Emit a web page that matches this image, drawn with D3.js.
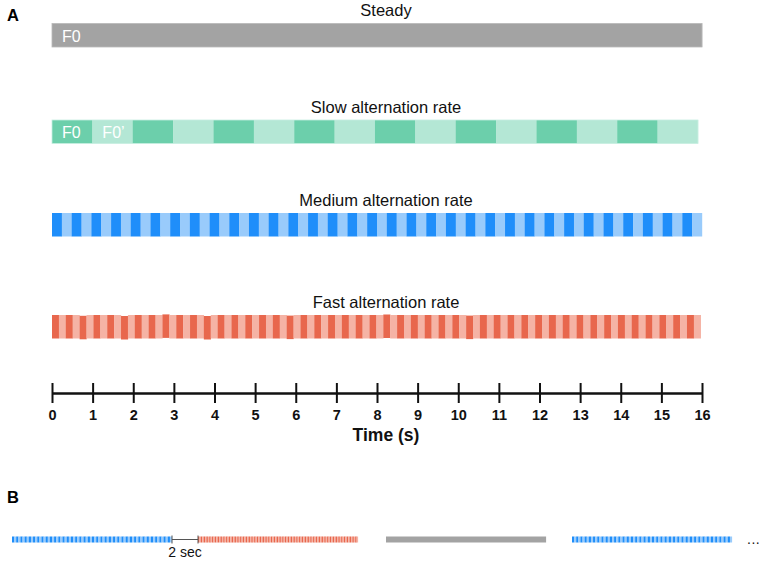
<!DOCTYPE html>
<html>
<head>
<meta charset="utf-8">
<script src="https://cdn.jsdelivr.net/npm/d3@7"></script>
<style>
  body { margin: 0; background: #fff; }
  text { font-family: "Liberation Sans", Arial, sans-serif; }
</style>
</head>
<body>
<div id="chart"></div>
<script>
// Panel A conditions
const conditions = ["Steady", "Slow alternation rate", "Medium alternation rate", "Fast alternation rate"];
const segmentCounts = [1, 16, 66, 94];          // alternating F0 / F0' segments over the trial
const barEnds = [16, 15.9, 16, 15.97];           // where each bar ends (s)
const darkColors = ["#a3a3a3", "#6ccfab", "#1f8efa", "#e8674d"];
const lightColors = ["#a3a3a3", "#b4e7d5", "#99cbfb", "#f5b3a5"];
const fastJitter = { 2: 0.8, 5: 1, 8: -0.6, 11: 1, 17: 0.6, 24: -0.5, 30: 0.6 };  // dark stripe y shifts

// Segment labels
const segLabels = [
  { cond: 0, seg: 0, text: "F0" },
  { cond: 1, seg: 0, text: "F0" },
  { cond: 1, seg: 1, text: "F0\u2019" }
];

// Time axis
const timeTicks = [0, 1, 2, 3, 4, 5, 6, 7, 8, 9, 10, 11, 12, 13, 14, 15, 16];

// Panel B trial sequence
const trialCond = [2, 3, 0, 2];
const trialStarts = [0, 18.6, 37.4, 56];
const trialDur = 16;
const trialSegments = [1, 16, 76, 114];

const width = 765, height = 563;
const svg = d3.select("#chart").append("svg")
    .attr("width", width)
    .attr("height", height);

const x = d3.scaleLinear().domain([0, 16]).range([52, 702]);
const barTop = d3.scaleOrdinal().domain(d3.range(4)).range([23.5, 120, 213, 315]);
const barH = 23.5;
const titleX = 386;

// Titles
svg.append("g").selectAll("text")
    .data(conditions)
    .join("text")
    .attr("x", titleX)
    .attr("y", (d, i) => barTop(i) - 7.5)
    .attr("text-anchor", "middle")
    .attr("font-size", 16.5)
    .attr("fill", "#111")
    .text(d => d);

// Bars made of alternating segments
conditions.forEach((c, ci) => {
  const n = segmentCounts[ci];
  const step = barEnds[ci] / n;
  const segs = d3.range(n).map(k => ({ k, t0: k * step, t1: (k + 1) * step }));
  const g = svg.append("g");
  g.selectAll("rect")
    .data(segs)
    .join("rect")
    .attr("x", d => x(d.t0))
    .attr("width", d => x(d.t1) - x(d.t0) + 0.2)
    .attr("y", d => barTop(ci) + (ci === 3 && d.k % 2 === 0 ? (fastJitter[d.k / 2] || 0) : 0))
    .attr("height", barH)
    .attr("fill", d => d.k % 2 === 0 ? darkColors[ci] : lightColors[ci]);
  if (ci < 2) {
    g.append("rect")
      .attr("x", x(0)).attr("y", barTop(ci))
      .attr("width", x(barEnds[ci]) - x(0)).attr("height", barH)
      .attr("fill", "none")
      .attr("stroke", ci === 0 ? "#b8b8b8" : "#c6eee0")
      .attr("stroke-width", 0.8);
  }
});

// F0 labels inside bars
svg.append("g").selectAll("text")
    .data(segLabels)
    .join("text")
    .attr("x", d => x(d.seg * barEnds[d.cond] / segmentCounts[d.cond]) + 10)
    .attr("y", d => barTop(d.cond) + 18)
    .attr("font-size", 16)
    .attr("fill", "#fff")
    .text(d => d.text);

// Time axis
const axisY = 393;
const axis = svg.append("g")
    .attr("transform", `translate(0,${axisY})`)
    .call(d3.axisBottom(x).tickValues(timeTicks).tickSize(0).tickPadding(0).tickFormat(d3.format("d")));
axis.select(".domain").attr("stroke", "#111").attr("stroke-width", 2.5);
axis.selectAll(".tick line")
    .attr("y1", -10).attr("y2", 10)
    .attr("stroke", "#111").attr("stroke-width", 2);
axis.selectAll(".tick text")
    .attr("y", 27).attr("dy", null)
    .attr("font-size", 14.5)
    .attr("font-weight", "bold")
    .attr("font-family", "'Liberation Sans', Arial, sans-serif")
    .attr("fill", "#111");

svg.append("text")
    .attr("x", titleX).attr("y", 441)
    .attr("text-anchor", "middle")
    .attr("font-size", 17.5)
    .attr("font-weight", "bold")
    .attr("fill", "#111")
    .text("Time (s)");

// Panel letters
svg.append("text").attr("x", 7).attr("y", 21)
    .attr("font-size", 16.5).attr("font-weight", "bold").text("A");
svg.append("text").attr("x", 7).attr("y", 503)
    .attr("font-size", 16.5).attr("font-weight", "bold").text("B");

// Panel B: trial sequence
const xb = d3.scaleLinear().domain([0, 72]).range([12, 732]);
const bTop = 536.5, bH = 6;
trialCond.forEach((ci, ti) => {
  const n = trialSegments[ci];
  const step = trialDur / n;
  const s0 = trialStarts[ti];
  svg.append("g").selectAll("rect")
    .data(d3.range(n))
    .join("rect")
    .attr("x", k => xb(s0 + k * step))
    .attr("width", k => xb(s0 + (k + 1) * step) - xb(s0 + k * step) + 0.1)
    .attr("y", bTop)
    .attr("height", bH)
    .attr("fill", k => k % 2 === 0 ? darkColors[ci] : lightColors[ci]);
});

// Inter-trial gap bracket
const gapY = bTop + bH / 2;
const gap = svg.append("g").attr("stroke", "#555").attr("stroke-width", 1);
gap.append("line")
    .attr("x1", xb(trialDur)).attr("x2", xb(trialStarts[1]))
    .attr("y1", gapY).attr("y2", gapY);
[trialDur, trialStarts[1]].forEach(t => {
  gap.append("line")
    .attr("x1", xb(t)).attr("x2", xb(t))
    .attr("y1", gapY - 4).attr("y2", gapY + 4);
});
svg.append("text")
    .attr("x", (xb(trialDur) + xb(trialStarts[1])) / 2)
    .attr("y", 557)
    .attr("text-anchor", "middle")
    .attr("font-size", 14)
    .attr("fill", "#111")
    .text("2 sec");

svg.append("text")
    .attr("x", 747).attr("y", 544)
    .attr("font-size", 14)
    .attr("letter-spacing", 0.5)
    .attr("fill", "#111")
    .text("...");
</script>
</body>
</html>
